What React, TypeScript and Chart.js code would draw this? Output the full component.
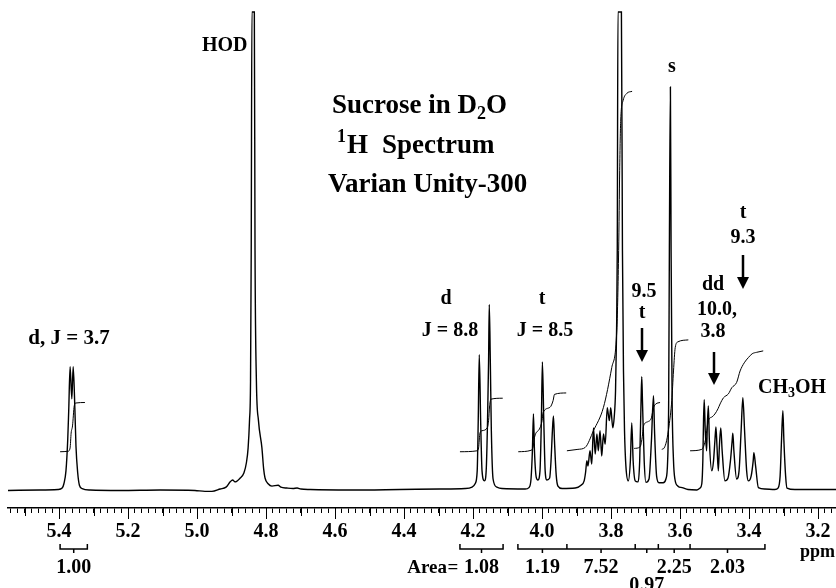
import React, { useEffect, useRef } from 'react';
import { Chart, registerables } from 'chart.js';

Chart.register(...registerables);

const FONT = '"Liberation Serif", "Times New Roman", serif';

// ---------- axis ----------
const PPM_LEFT = 5.548;
const PPM_RIGHT = 3.148;
const MAJOR_TICKS = [5.4, 5.2, 5.0, 4.8, 4.6, 4.4, 4.2, 4.0, 3.8, 3.6, 3.4, 3.2];
const TICK_LABELS = ['5.4', '5.2', '5.0', '4.8', '4.6', '4.4', '4.2', '4.0', '3.8', '3.6', '3.4', '3.2'];
const MINOR_STEP_COUNT = { first: 158, last: 277, per: 50 }; // ticks every 0.02 ppm

// ---------- spectrum (ppm, intensity) ----------
const SPEC_PPM = [5.548, 5.455, 5.403, 5.391, 5.386, 5.380, 5.375, 5.372, 5.368, 5.363, 5.359, 5.354, 5.351, 5.346, 5.341, 5.333, 5.310, 5.223, 5.107, 5.006, 4.977, 4.957, 4.933, 4.916, 4.904, 4.897, 4.890, 4.875, 4.864, 4.857, 4.852, 4.848, 4.845, 4.843, 4.841, 4.834, 4.832, 4.828, 4.822, 4.812, 4.807, 4.803, 4.794, 4.783, 4.765, 4.757, 4.739, 4.722, 4.710, 4.699, 4.672, 4.557, 4.412, 4.296, 4.223, 4.203, 4.194, 4.188, 4.185, 4.182, 4.178, 4.174, 4.167, 4.162, 4.158, 4.155, 4.153, 4.150, 4.147, 4.142, 4.131, 4.116, 4.049, 4.038, 4.032, 4.028, 4.025, 4.022, 4.017, 4.012, 4.006, 4.002, 3.999, 3.995, 3.991, 3.986, 3.978, 3.974, 3.970, 3.967, 3.964, 3.959, 3.954, 3.942, 3.904, 3.887, 3.878, 3.874, 3.870, 3.867, 3.861, 3.856, 3.851, 3.846, 3.841, 3.837, 3.832, 3.827, 3.822, 3.817, 3.811, 3.805, 3.801, 3.795, 3.791, 3.787, 3.784, 3.782, 3.780, 3.770, 3.767, 3.764, 3.761, 3.757, 3.750, 3.744, 3.740, 3.736, 3.730, 3.723, 3.717, 3.713, 3.711, 3.709, 3.704, 3.699, 3.690, 3.683, 3.677, 3.674, 3.668, 3.661, 3.649, 3.641, 3.636, 3.633, 3.631, 3.628, 3.626, 3.623, 3.619, 3.615, 3.606, 3.594, 3.577, 3.551, 3.542, 3.537, 3.534, 3.532, 3.530, 3.527, 3.523, 3.521, 3.518, 3.515, 3.508, 3.503, 3.499, 3.496, 3.493, 3.489, 3.486, 3.482, 3.478, 3.470, 3.461, 3.454, 3.449, 3.447, 3.444, 3.436, 3.429, 3.423, 3.418, 3.413, 3.407, 3.402, 3.394, 3.388, 3.386, 3.381, 3.373, 3.354, 3.325, 3.316, 3.310, 3.306, 3.302, 3.299, 3.294, 3.290, 3.267, 3.148];
const SPEC_VAL = [-0.1, 0, 0.1, 0.4, 1.3, 4.0, 10.3, 16.6, 25.8, 19.1, 25.8, 16.6, 9.2, 3.6, 1.0, 0.3, 0, -0.1, 0, -0.1, -0.3, -0.3, 0.2, 0.6, 1.7, 2.1, 1.7, 2.5, 3.6, 5.7, 8.8, 14.5, 22.8, 50.1, 100, 100, 50.1, 22.8, 14.5, 8.8, 4.4, 2.5, 1.3, 0.8, 1.0, 0.6, 0.4, 0.3, 0.4, 0.2, 0.1, 0, 0.1, 0.2, 0.3, 0.6, 1.3, 4.0, 14.5, 28.3, 14.5, 4.0, 1.9, 4.0, 14.5, 27.0, 38.8, 27.0, 12.4, 2.3, 0.6, 0.3, 0.2, 0.5, 2.3, 8.2, 15.9, 8.2, 2.7, 2.1, 4.0, 14.5, 26.8, 14.5, 4.0, 2.1, 2.5, 6.1, 12.4, 15.5, 10.3, 3.1, 0.8, 0.3, 0.4, 1.0, 1.9, 3.6, 6.1, 5.0, 8.2, 5.4, 13.0, 7.5, 11.7, 8.2, 12.4, 7.1, 11.7, 9.6, 17.2, 14.5, 17.2, 13.0, 15.1, 20.8, 33.3, 50.1, 100, 100, 50.1, 24.9, 12.4, 5.0, 1.9, 6.1, 14.0, 6.1, 1.9, 1.7, 6.1, 18.7, 23.7, 18.7, 6.1, 1.6, 2.3, 10.3, 19.7, 12.4, 2.9, 1.5, 1.5, 2.3, 6.1, 18.7, 50.1, 84.3, 50.1, 18.7, 6.1, 2.3, 0.8, 0.5, 0.1, 0, 0.4, 1.3, 6.1, 14.5, 18.9, 12.4, 8.2, 13.4, 17.6, 10.3, 4.0, 6.1, 10.3, 13.2, 9.2, 4.0, 9.2, 13.0, 8.2, 1.9, 2.5, 6.1, 10.3, 11.9, 8.2, 2.3, 4.0, 12.4, 19.3, 12.4, 4.0, 1.9, 2.9, 6.1, 7.8, 5.0, 0.5, 0.2, 0.1, 0.4, 2.9, 10.3, 16.6, 10.3, 2.9, 0.4, 0.1, 0.1];

// ---------- integral traces ----------
const INT1_PPM = [5.397, 5.374, 5.368, 5.365, 5.361, 5.356, 5.351, 5.325];
const INT1_VAL = [8.0, 8.1, 8.8, 11.9, 13.4, 17.6, 18.2, 18.3];
const INT2_PPM = [4.238, 4.188, 4.184, 4.180, 4.174, 4.159, 4.155, 4.152, 4.148, 4.114];
const INT2_VAL = [8.0, 8.2, 8.8, 11.9, 12.4, 13.0, 14.5, 17.6, 19.0, 19.2];
const INT3_PPM = [4.069, 4.032, 4.026, 4.022, 4.006, 4.000, 3.997, 3.977, 3.968, 3.964, 3.930];
const INT3_VAL = [8.0, 8.3, 9.0, 11.0, 13.0, 14.5, 16.2, 17.3, 18.7, 20.0, 20.3];
const INT4_PPM = [3.928, 3.896, 3.875, 3.851, 3.822, 3.798, 3.783, 3.778, 3.775, 3.772, 3.765, 3.754, 3.739];
const INT4_VAL = [8.2, 8.5, 8.9, 12.4, 17.3, 25.6, 34.0, 50.1, 66.9, 77.4, 81.5, 83.0, 83.4];
const INT5_PPM = [3.733, 3.716, 3.710, 3.706, 3.693, 3.683, 3.677, 3.670, 3.658];
const INT5_VAL = [8.7, 9.0, 10.9, 13.4, 14.3, 15.1, 17.2, 18.0, 18.3];
const INT6_PPM = [3.653, 3.646, 3.639, 3.632, 3.624, 3.619, 3.614, 3.606, 3.576];
const INT6_VAL = [8.5, 8.8, 10.3, 13.4, 18.7, 24.9, 29.8, 31.0, 31.4];
const INT7_PPM = [3.571, 3.537, 3.527, 3.518, 3.507, 3.499, 3.490, 3.484, 3.474, 3.460, 3.450, 3.436, 3.426, 3.414, 3.402, 3.391, 3.378, 3.359];
const INT7_VAL = [8.2, 8.5, 10.3, 14.5, 15.3, 15.9, 17.0, 18.0, 19.3, 20.1, 21.4, 22.5, 24.9, 26.6, 27.7, 28.5, 28.8, 29.1];

// ---------- integration brackets below the axis ----------
const BRACKET_FROM = [5.397, 4.238, 4.070, 3.928, 3.730, 3.663, 3.571];
const BRACKET_TO = [5.318, 4.113, 3.928, 3.730, 3.663, 3.571, 3.354];
const BRACKET_AREA = ['1.00', '1.08', '1.19', '7.52', '0.97', '2.25', '2.03'];

type Part = { t: string; sub?: boolean; sup?: boolean };
type Note = { parts: Part[]; x: number; y: number; size: number; align: 'left' | 'center' };

const NOTES: Note[] = [
  { parts: [{ t: 'HOD' }], x: 202, y: 51, size: 20, align: 'left' },
  { parts: [{ t: 'Sucrose in D' }, { t: '2', sub: true }, { t: 'O' }], x: 332, y: 113, size: 27, align: 'left' },
  { parts: [{ t: '1', sup: true }], x: 337, y: 153, size: 27, align: 'left' },
  { parts: [{ t: 'H' }], x: 347, y: 153, size: 27, align: 'left' },
  { parts: [{ t: 'Spectrum' }], x: 382, y: 153, size: 27, align: 'left' },
  { parts: [{ t: 'Varian Unity-300' }], x: 328, y: 192, size: 27, align: 'left' },
  { parts: [{ t: 'd, J = 3.7' }], x: 69, y: 344, size: 21, align: 'center' },
  { parts: [{ t: 'd' }], x: 446, y: 304, size: 20, align: 'center' },
  { parts: [{ t: 'J = 8.8' }], x: 450, y: 336, size: 20, align: 'center' },
  { parts: [{ t: 't' }], x: 542, y: 304, size: 20, align: 'center' },
  { parts: [{ t: 'J = 8.5' }], x: 545, y: 336, size: 20, align: 'center' },
  { parts: [{ t: '9.5' }], x: 644, y: 297, size: 20, align: 'center' },
  { parts: [{ t: 't' }], x: 642, y: 318, size: 20, align: 'center' },
  { parts: [{ t: 's' }], x: 672, y: 72, size: 20, align: 'center' },
  { parts: [{ t: 'dd' }], x: 713, y: 290, size: 20, align: 'center' },
  { parts: [{ t: '10.0,' }], x: 717, y: 315, size: 20, align: 'center' },
  { parts: [{ t: '3.8' }], x: 713, y: 337, size: 20, align: 'center' },
  { parts: [{ t: 't' }], x: 743, y: 218, size: 20, align: 'center' },
  { parts: [{ t: '9.3' }], x: 743, y: 243, size: 20, align: 'center' },
  { parts: [{ t: 'CH' }, { t: '3', sub: true }, { t: 'OH' }], x: 758, y: 393, size: 20, align: 'left' },
  { parts: [{ t: 'ppm' }], x: 800, y: 557, size: 18, align: 'left' },
];

const ARROWS = [
  { x: 642, y1: 328, y2: 362 },
  { x: 714, y1: 352, y2: 385 },
  { x: 743, y1: 255, y2: 289 },
];

function drawParts(ctx: CanvasRenderingContext2D, n: Note) {
  const small = Math.round(n.size * 0.68);
  const fontOf = (p: Part) => `bold ${p.sub || p.sup ? small : n.size}px ${FONT}`;
  const widths = n.parts.map((p) => {
    ctx.font = fontOf(p);
    return ctx.measureText(p.t).width;
  });
  const total = widths.reduce((a, b) => a + b, 0);
  let cx = n.align === 'center' ? n.x - total / 2 : n.x;
  ctx.textAlign = 'left';
  ctx.textBaseline = 'alphabetic';
  n.parts.forEach((p, i) => {
    ctx.font = fontOf(p);
    const dy = p.sub ? n.size * 0.22 : p.sup ? -n.size * 0.4 : 0;
    ctx.fillText(p.t, cx, n.y + dy);
    cx += widths[i];
  });
}

const overlayPlugin = {
  id: 'nmrOverlay',
  afterDraw(chart: any) {
    const { ctx, chartArea } = chart;
    const xs = chart.scales.x;
    const axisY = chartArea.bottom;
    ctx.save();
    ctx.strokeStyle = '#000';
    ctx.fillStyle = '#000';

    // longer ticks at 0.1 ppm
    ctx.lineWidth = 1;
    ctx.beginPath();
    for (let i = MINOR_STEP_COUNT.first; i <= MINOR_STEP_COUNT.last; i++) {
      if (i % 5 !== 0) continue;
      const v = i / MINOR_STEP_COUNT.per;
      const len = i % 10 === 0 ? 11 : 8;
      const px = Math.round(xs.getPixelForValue(v)) + 0.5;
      ctx.moveTo(px, axisY);
      ctx.lineTo(px, axisY + len);
    }
    ctx.stroke();

    // integration brackets
    const hy = axisY + 41;
    ctx.lineWidth = 1.5;
    ctx.beginPath();
    for (let i = 0; i < BRACKET_FROM.length; i++) {
      const a = xs.getPixelForValue(BRACKET_FROM[i]);
      const b = xs.getPixelForValue(BRACKET_TO[i]);
      const m = (a + b) / 2;
      ctx.moveTo(a, hy - 5);
      ctx.lineTo(a, hy);
      ctx.lineTo(b, hy);
      ctx.lineTo(b, hy - 5);
      ctx.moveTo(m, hy);
      ctx.lineTo(m, hy + 4);
    }
    ctx.stroke();
    for (let i = 0; i < BRACKET_FROM.length; i++) {
      const a = xs.getPixelForValue(BRACKET_FROM[i]);
      const b = xs.getPixelForValue(BRACKET_TO[i]);
      const m = (a + b) / 2;
      const y = BRACKET_AREA[i] === '0.97' ? axisY + 83 : axisY + 65;
      drawParts(ctx, { parts: [{ t: BRACKET_AREA[i] }], x: m, y, size: 20, align: 'center' });
    }
    // "Area =" label pieces
    {
      const a = xs.getPixelForValue(BRACKET_FROM[1]);
      ctx.font = `bold 19px ${FONT}`;
      ctx.textBaseline = 'alphabetic';
      ctx.textAlign = 'right';
      ctx.fillText('Area', a - 13, axisY + 65);
      ctx.textAlign = 'center';
      ctx.fillText('=', a - 7, axisY + 65);
    }

    // text annotations
    NOTES.forEach((n) => drawParts(ctx, n));

    // arrows
    ARROWS.forEach((ar) => {
      ctx.lineWidth = 2.5;
      ctx.beginPath();
      ctx.moveTo(ar.x, ar.y1);
      ctx.lineTo(ar.x, ar.y2 - 10);
      ctx.stroke();
      ctx.beginPath();
      ctx.moveTo(ar.x - 6, ar.y2 - 12);
      ctx.lineTo(ar.x + 6, ar.y2 - 12);
      ctx.lineTo(ar.x, ar.y2);
      ctx.closePath();
      ctx.fill();
    });
    ctx.restore();
  },
};

function series(xs: number[], ys: number[]) {
  return xs.map((x, i) => ({ x, y: ys[i] }));
}

export default function App() {
  const ref = useRef<HTMLCanvasElement>(null);
  useEffect(() => {
    const intLine = (xs: number[], ys: number[]) => ({
      data: series(xs, ys),
      showLine: true,
      borderColor: '#000',
      borderWidth: 1,
      pointRadius: 0,
      cubicInterpolationMode: 'monotone' as const,
      clip: 6,
    });
    const chart = new Chart(ref.current!, {
      type: 'scatter',
      data: {
        datasets: [
          {
            data: series(SPEC_PPM, SPEC_VAL),
            showLine: true,
            borderColor: '#000',
            borderWidth: 1.4,
            pointRadius: 0,
            cubicInterpolationMode: 'monotone',
            clip: 6,
          },
          intLine(INT1_PPM, INT1_VAL),
          intLine(INT2_PPM, INT2_VAL),
          intLine(INT3_PPM, INT3_VAL),
          intLine(INT4_PPM, INT4_VAL),
          intLine(INT5_PPM, INT5_VAL),
          intLine(INT6_PPM, INT6_VAL),
          intLine(INT7_PPM, INT7_VAL),
        ] as any,
      },
      options: {
        responsive: false,
        animation: false,
        devicePixelRatio: 1,
        events: [],
        layout: { padding: { left: 8, right: 0, top: 12, bottom: 37 } },
        plugins: { legend: { display: false }, tooltip: { enabled: false } },
        elements: { point: { radius: 0 } },
        scales: {
          x: {
            type: 'linear',
            reverse: true,
            min: PPM_RIGHT,
            max: PPM_LEFT,
            afterBuildTicks: (scale: any) => {
              const t = [];
              for (let i = MINOR_STEP_COUNT.first; i <= MINOR_STEP_COUNT.last; i++) {
                t.push({ value: i / MINOR_STEP_COUNT.per });
              }
              scale.ticks = t;
            },
            grid: {
              drawOnChartArea: false,
              drawTicks: true,
              tickLength: 5,
              color: '#000',
              tickColor: '#000',
              tickWidth: 1,
            },
            border: { display: true, color: '#000', width: 1.5 },
            ticks: {
              autoSkip: false,
              maxRotation: 0,
              minRotation: 0,
              padding: 7,
              color: '#000',
              font: { family: FONT, size: 20, weight: 'bold' },
              callback: (value: any) => {
                const i = MAJOR_TICKS.findIndex((m) => Math.abs(m - Number(value)) < 1e-6);
                return i >= 0 ? TICK_LABELS[i] : '';
              },
            },
          },
          y: { display: false, min: -3.77, max: 100 },
        },
      } as any,
      plugins: [overlayPlugin],
    });
    return () => chart.destroy();
  }, []);
  return (
    <div style={{ position: 'fixed', left: 0, top: 0, width: 836, height: 588, background: '#fff' }}>
      <canvas ref={ref} width={836} height={588} style={{ display: 'block' }} />
    </div>
  );
}
